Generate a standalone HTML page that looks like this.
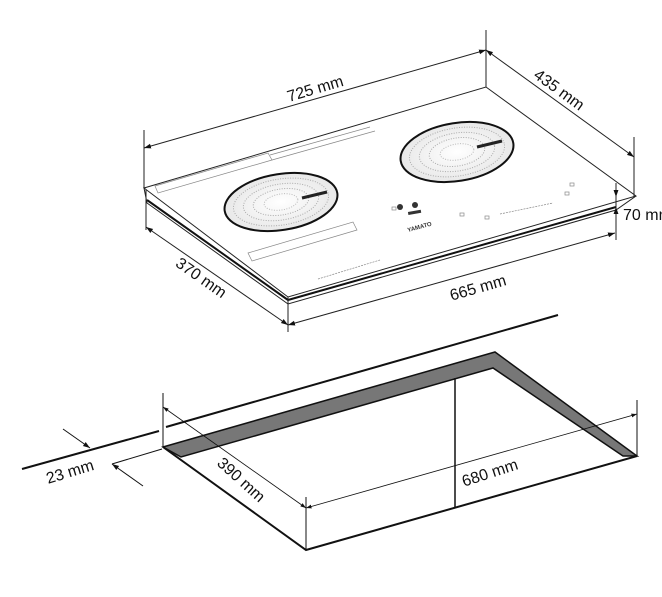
<!DOCTYPE html>
<html><head><meta charset="utf-8"><style>
html,body{margin:0;padding:0;background:#fff;}
svg{display:block;font-family:"Liberation Sans",Arial,sans-serif;}
</style></head><body>
<svg width="662" height="597" viewBox="0 0 662 597" xmlns="http://www.w3.org/2000/svg">
<defs>
<marker id="a" viewBox="0 0 10 10" refX="10" refY="5" markerWidth="7" markerHeight="7" orient="auto-start-reverse"><path d="M0,1.5 L10,5 L0,8.5 z" fill="#111"/></marker>
<radialGradient id="g"><stop offset="0" stop-color="#fff"/><stop offset="1" stop-color="#e8e8e8"/></radialGradient>
</defs>
<polygon points="144,188 486,87 636,196 288,297" fill="#fff" stroke="#222" stroke-width="1"/>
<polyline points="144,188 147,203 288,304 616,210 636,196" fill="none" stroke="#222" stroke-width="1"/>
<line x1="147" y1="200" x2="288" y2="300" stroke="#111" stroke-width="2"/>
<line x1="288" y1="300" x2="616" y2="207" stroke="#111" stroke-width="2"/>
<line x1="288" y1="297" x2="288" y2="305" stroke="#222"/>
<g transform="rotate(-9 281 202)">
<ellipse cx="281" cy="202" rx="57" ry="28" fill="url(#g)" stroke="#111" stroke-width="2"/>
<ellipse cx="281" cy="202" rx="48" ry="23" fill="none" stroke="#aaa" stroke-dasharray="1 1.5"/>
<ellipse cx="281" cy="202" rx="38" ry="18" fill="none" stroke="#aaa" stroke-dasharray="1 1.5"/>
<ellipse cx="281" cy="202" rx="28" ry="13" fill="none" stroke="#aaa" stroke-dasharray="1 1.5"/>
<ellipse cx="281" cy="202" rx="17" ry="8" fill="none" stroke="#bbb" stroke-dasharray="1 1.5"/>
</g>
<line x1="302" y1="198" x2="327" y2="192" stroke="#222" stroke-width="3"/>
<g transform="rotate(-9 457 152)">
<ellipse cx="457" cy="152" rx="57" ry="29" fill="url(#g)" stroke="#111" stroke-width="2"/>
<ellipse cx="457" cy="152" rx="48" ry="24" fill="none" stroke="#aaa" stroke-dasharray="1 1.5"/>
<ellipse cx="457" cy="152" rx="38" ry="19" fill="none" stroke="#aaa" stroke-dasharray="1 1.5"/>
<ellipse cx="457" cy="152" rx="28" ry="14" fill="none" stroke="#aaa" stroke-dasharray="1 1.5"/>
<ellipse cx="457" cy="152" rx="17" ry="8" fill="none" stroke="#bbb" stroke-dasharray="1 1.5"/>
</g>
<line x1="477" y1="147" x2="502" y2="141" stroke="#222" stroke-width="3"/>
<g stroke="#888" fill="none" stroke-width="0.7">
<polygon points="155,186 268,153 272,160 158,193"/>
<polygon points="248,253 353,222 357,230 252,261"/>
<line x1="270" y1="155" x2="370" y2="127"/><line x1="272" y1="160" x2="375" y2="131"/>
<line x1="318" y1="279" x2="380" y2="260" stroke-dasharray="2 1"/>
<line x1="500" y1="214" x2="553" y2="203" stroke-dasharray="2 1"/>
<rect x="392" y="207" width="4" height="3"/><rect x="460" y="213" width="4" height="3"/>
<rect x="485" y="216" width="4" height="3"/><rect x="570" y="183" width="4" height="3"/><rect x="565" y="192" width="4" height="3"/>
</g>
<circle cx="400" cy="207" r="3" fill="#333"/><circle cx="415" cy="205" r="3" fill="#333"/>
<rect x="408" y="211" width="13" height="3" fill="#333" transform="rotate(-10 414 212)"/>
<text x="408" y="232" font-size="6" font-weight="bold" fill="#333" transform="rotate(-15 408 232)">YAMATO</text>
<g stroke="#222" stroke-width="1" fill="none">
<line x1="144" y1="130" x2="144" y2="188"/>
<line x1="486" y1="30" x2="486" y2="87"/>
<line x1="144" y1="148" x2="486" y2="50" marker-start="url(#a)" marker-end="url(#a)"/>
<line x1="486" y1="50" x2="634" y2="157" marker-start="url(#a)" marker-end="url(#a)"/>
<line x1="634" y1="137" x2="634" y2="197"/>
<line x1="616" y1="183" x2="616" y2="240"/>
<line x1="616" y1="186" x2="616" y2="197" marker-end="url(#a)"/>
<line x1="616" y1="218" x2="616" y2="207" marker-end="url(#a)"/>
<line x1="146" y1="190" x2="146" y2="230"/>
<line x1="146" y1="227" x2="288" y2="325" marker-start="url(#a)" marker-end="url(#a)"/>
<line x1="288" y1="300" x2="288" y2="332"/>
<line x1="288" y1="325" x2="615" y2="233" marker-start="url(#a)" marker-end="url(#a)"/>
</g>
<g font-size="16" fill="#111">
<text x="315" y="94" text-anchor="middle" transform="rotate(-16.5 315 88)">725 mm</text>
<text x="559" y="95" text-anchor="middle" transform="rotate(36 559 90)">435 mm</text>
<text x="623" y="220">70 mm</text>
<text x="201" y="283" text-anchor="middle" transform="rotate(35 201 278)">370 mm</text>
<text x="478" y="293" text-anchor="middle" transform="rotate(-16 478 288)">665 mm</text>
</g>
<g stroke="#111" fill="none">
<line x1="22" y1="469" x2="159" y2="431" stroke-width="2"/>
<line x1="166" y1="427" x2="558" y2="315" stroke-width="2"/>
<polygon points="163,447 495,352 637,456 623,456 493,368 181,457" fill="#777" stroke-width="1.5"/>
<polyline points="163,447 306,550 637,456" stroke-width="2"/>
<line x1="455" y1="378" x2="455" y2="507" stroke-width="1.5"/>
<line x1="163" y1="393" x2="163" y2="447" stroke-width="1"/>
<line x1="163" y1="407" x2="306" y2="508" stroke-width="0.8" marker-start="url(#a)" marker-end="url(#a)"/>
<line x1="306" y1="497" x2="306" y2="550" stroke-width="1"/>
<line x1="306" y1="508" x2="637" y2="414" stroke-width="0.8" marker-start="url(#a)" marker-end="url(#a)"/>
<line x1="637" y1="400" x2="637" y2="456" stroke-width="1"/>
<line x1="63" y1="429" x2="90" y2="448" stroke-width="1" marker-end="url(#a)"/>
<line x1="143" y1="486" x2="112" y2="464" stroke-width="1" marker-end="url(#a)"/>
<line x1="112" y1="464" x2="162" y2="449" stroke-width="1"/>
</g>
<g font-size="16" fill="#111">
<text x="70" y="477" text-anchor="middle" transform="rotate(-17 70 472)">23 mm</text>
<text x="241" y="485" text-anchor="middle" transform="rotate(42 241 480)">390 mm</text>
<text x="490" y="478" text-anchor="middle" transform="rotate(-18 490 473)">680 mm</text>
</g>
</svg>
</body></html>
